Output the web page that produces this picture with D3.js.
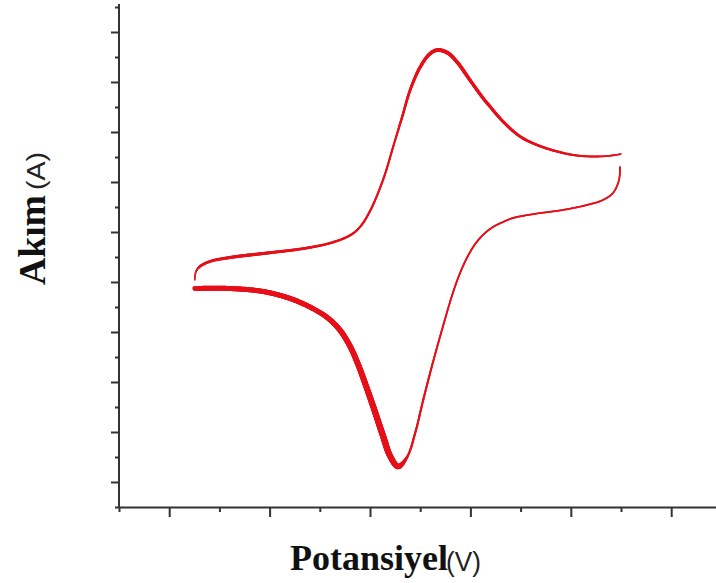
<!DOCTYPE html>
<head>
  <meta charset="utf-8">
  <script src="https://d3js.org/d3.v7.min.js"></script>
  <style>
    body { margin: 0; background: #fff; }
    svg { display: block; }
  </style>
</head>
<body>
  <div class="chart"></div>
  <script>

    // potential / current readings, upper (anodic) branch, left to right
    var upperPotential = [0.51, 0.53, 0.61, 0.81, 1.21, 1.87, 2.55, 2.80, 3.10, 3.34, 3.54, 3.70, 3.84,
      3.98, 4.12, 4.30, 4.46, 4.64, 4.80, 5.00, 5.20, 5.35, 5.55, 5.75, 5.99, 6.25, 6.39, 6.65,
      6.99, 7.33, 7.73, 8.12, 8.52, 8.82, 9.00];
    var upperCurrent = [8.08, 8.40, 8.62, 8.82, 8.98, 9.14, 9.30, 9.38, 9.50, 9.64, 9.80, 10.00, 10.30,
      10.76, 11.36, 12.32, 13.40, 14.60, 15.68, 16.60, 17.14, 17.28, 17.16, 16.76, 16.08, 15.36, 15.02, 14.42,
      13.82, 13.48, 13.22, 13.06, 13.02, 13.06, 13.12];

    // lower (cathodic) branch, left to right
    var lowerPotential = [0.51, 1.21, 1.87, 2.41, 2.86, 3.16, 3.40, 3.60, 3.76, 3.90, 4.06, 4.26, 4.40, 4.56,
      4.74, 4.90, 5.06, 5.25, 5.45, 5.65, 5.81, 5.95, 6.11, 6.27, 6.45, 6.65, 6.85, 7.33, 7.84, 8.32,
      8.64, 8.84, 8.96, 8.98];
    var lowerCurrent = [7.74, 7.74, 7.62, 7.34, 6.94, 6.56, 6.08, 5.44, 4.72, 3.96, 3.04, 1.84, 1.04, 0.62,
      1.00, 1.96, 3.28, 4.76, 6.20, 7.56, 8.44, 9.04, 9.56, 9.92, 10.20, 10.40, 10.56, 10.74, 10.88, 11.08,
      11.28, 11.56, 12.08, 12.60];

    var xTicks = d3.range(-1, 11);
    var yTicks = d3.range(-1, 20);

    var width = 716, height = 583;
    var red = "#e6101a";

    var svg = d3.select(".chart")
      .append("svg")
      .attr("width", width)
      .attr("height", height);

    var x = d3.scaleLinear().domain([-1, 11]).range([119, 721.4]);
    var y = d3.scaleLinear().domain([-1, 19]).range([507, 7]);

    // axes, no tick labels; long ticks on even values
    var xAxis = svg.append("g")
      .attr("transform", "translate(0," + y(-1) + ")")
      .call(d3.axisBottom(x).tickValues(xTicks).tickFormat("").tickSizeOuter(0));
    xAxis.selectAll(".tick line")
      .attr("y2", function(d) { return d % 2 === 0 ? 10 : 5 });

    var yAxis = svg.append("g")
      .attr("transform", "translate(" + x(-1) + ",0)")
      .call(d3.axisLeft(y).tickValues(yTicks).tickFormat("").tickSizeOuter(0));
    yAxis.selectAll(".tick line")
      .attr("x2", function(d) { return d % 2 === 0 ? -8 : -4 });
    yAxis.select(".domain")
      .attr("d", "M0," + y(-1) + "V4");

    svg.selectAll(".domain, .tick line")
      .attr("stroke", "#333")
      .attr("stroke-width", 2);

    // line width along each branch (thicker on the reduction side)
    var upperWidth = d3.scaleLinear()
      .domain([0.5, 0.62, 1.5, 3.5, 4.5, 5.0, 5.4, 6.2, 7.5, 9.0])
      .range([1.4, 2.6, 3.2, 2.2, 2.0, 3.2, 3.8, 3.2, 2.4, 1.6])
      .clamp(true);
    var lowerWidth = d3.scaleLinear()
      .domain([0.5, 3.0, 4.3, 4.56, 4.75, 5.5, 9.0])
      .range([5, 5, 6.2, 5.5, 2.2, 1.8, 1.7])
      .clamp(true);

    var line = d3.line()
      .x(function(d) { return x(d[0]) })
      .y(function(d) { return y(d[1]) })
      .curve(d3.curveCatmullRom.alpha(0.5));

    function drawBranch(pot, cur, widthScale) {
      var pts = pot.map(function(p, i) { return [p, cur[i]] });
      var guide = svg.append("path")
        .attr("d", line(pts))
        .attr("fill", "none")
        .attr("stroke", "none");
      var node = guide.node();
      var total = node.getTotalLength();
      var samples = d3.range(0, total, 1).concat([total]).map(function(l) {
        return node.getPointAtLength(l);
      });
      var segs = d3.pairs(samples);
      svg.append("g")
        .selectAll("line")
        .data(segs)
        .enter().append("line")
        .attr("x1", function(d) { return d[0].x })
        .attr("y1", function(d) { return d[0].y })
        .attr("x2", function(d) { return d[1].x })
        .attr("y2", function(d) { return d[1].y })
        .attr("stroke", red)
        .attr("stroke-linecap", "round")
        .attr("stroke-width", function(d) { return widthScale(x.invert(d[0].x)) });
    }

    drawBranch(upperPotential, upperCurrent, upperWidth);
    drawBranch(lowerPotential, lowerCurrent, lowerWidth);

    // axis titles
    var yTitle = svg.append("g")
      .attr("transform", "translate(45,285) rotate(-90)");
    yTitle.append("text")
      .attr("font-family", "'Liberation Serif', 'Times New Roman', serif")
      .attr("font-weight", "bold")
      .attr("font-size", 38)
      .attr("fill", "#111")
      .attr("textLength", 90)
      .attr("lengthAdjust", "spacingAndGlyphs")
      .text("Akım");
    yTitle.append("text")
      .attr("x", 95)
      .attr("font-family", "'Liberation Sans', Arial, sans-serif")
      .attr("font-size", 26)
      .attr("fill", "#222")
      .attr("textLength", 38)
      .attr("lengthAdjust", "spacingAndGlyphs")
      .text("(A)");

    svg.append("text")
      .attr("x", 290)
      .attr("y", 570)
      .attr("font-family", "'Liberation Serif', 'Times New Roman', serif")
      .attr("font-weight", "bold")
      .attr("font-size", 36)
      .attr("fill", "#111")
      .text("Potansiyel");
    svg.append("text")
      .attr("x", 446)
      .attr("y", 571)
      .attr("font-family", "'Liberation Sans', Arial, sans-serif")
      .attr("font-size", 28)
      .attr("fill", "#222")
      .attr("textLength", 35)
      .attr("lengthAdjust", "spacingAndGlyphs")
      .text("(V)");

  </script>
</body>
